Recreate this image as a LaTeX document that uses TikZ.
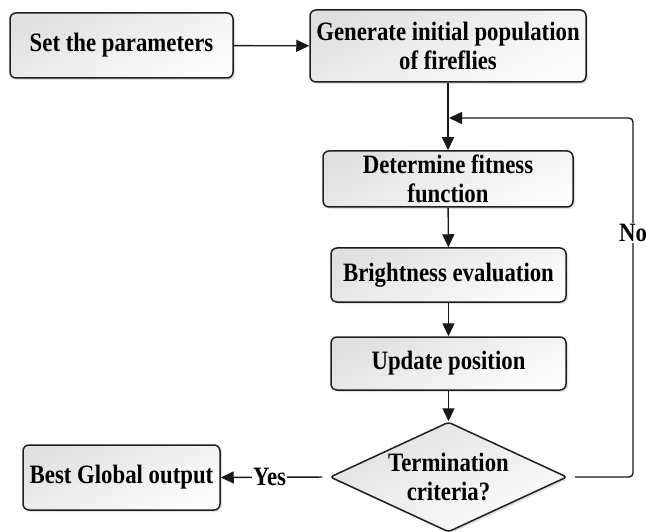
\documentclass[tikz,border=0pt]{standalone}
\usepackage{fontspec}
\setmainfont{Liberation Serif}[FakeStretch=0.86]
\usetikzlibrary{arrows.meta,shapes.geometric,shadows}

\tikzset{
  box/.style={draw=black!88, line width=1.5pt, rounded corners=6pt,
    top color=black!12, bottom color=black!1, shading angle=25,
    drop shadow={shadow xshift=2pt, shadow yshift=-2pt, opacity=0.3, fill=black!40},
    align=center, inner sep=0pt, font=\fontsize{26.5}{29}\selectfont\bfseries},
  decision/.style={box, diamond, rounded corners=3pt, aspect=2.15},
  flow/.style={line width=1.4pt, draw=black!90, -{Triangle[length=13pt,width=12pt]}},
  lbl/.style={fill=white, inner sep=1pt, font=\fontsize{26.5}{29}\selectfont\bfseries}
}

\begin{document}
\begin{tikzpicture}[x=1pt,y=-1pt]
  \useasboundingbox (0,0) rectangle (646,532);

  % process steps
  \node[box, minimum width=223pt, minimum height=65pt] (set) at (121.5,45.5) {Set the parameters};
  \node[box, minimum width=276pt, minimum height=72pt] (gen) at (448,46) {Generate initial population\\of fireflies};
  \node[box, minimum width=250pt, minimum height=56pt] (fit) at (448,179) {Determine fitness\\function};
  \node[box, minimum width=235pt, minimum height=54pt] (bri) at (448.5,275) {Brightness evaluation};
  \node[box, minimum width=235pt, minimum height=53pt] (upd) at (448.5,363.5) {Update position};
  \node[decision, minimum width=237pt, minimum height=110pt] (term) at (448.5,477) {Termination\\criteria?};
  \node[box, minimum width=197pt, minimum height=65pt] (best) at (121.5,477.5) {Best Global output};

  % loop-back corner points
  \coordinate (loopR) at (633,477);
  \coordinate (loopT) at (633,118);
  \coordinate (loopIn) at (449,118);

  % connectors
  \draw[flow] (set) -- (gen);
  \draw[flow] (gen) -- (fit);
  \draw[flow] (fit) -- (bri);
  \draw[flow] (bri) -- (upd);
  \draw[flow] (upd) -- (term);
  \draw[flow, shorten <=7pt] (term.west) -- node[lbl, pos=0.55] (yes) {Yes} (best.east);
  \draw[flow, rounded corners=4pt, shorten <=7pt] (term.east) -- (loopR) -- (loopT) -- (loopIn);
  \node[lbl] (no) at (633,233) {No};
\end{tikzpicture}
\end{document}
